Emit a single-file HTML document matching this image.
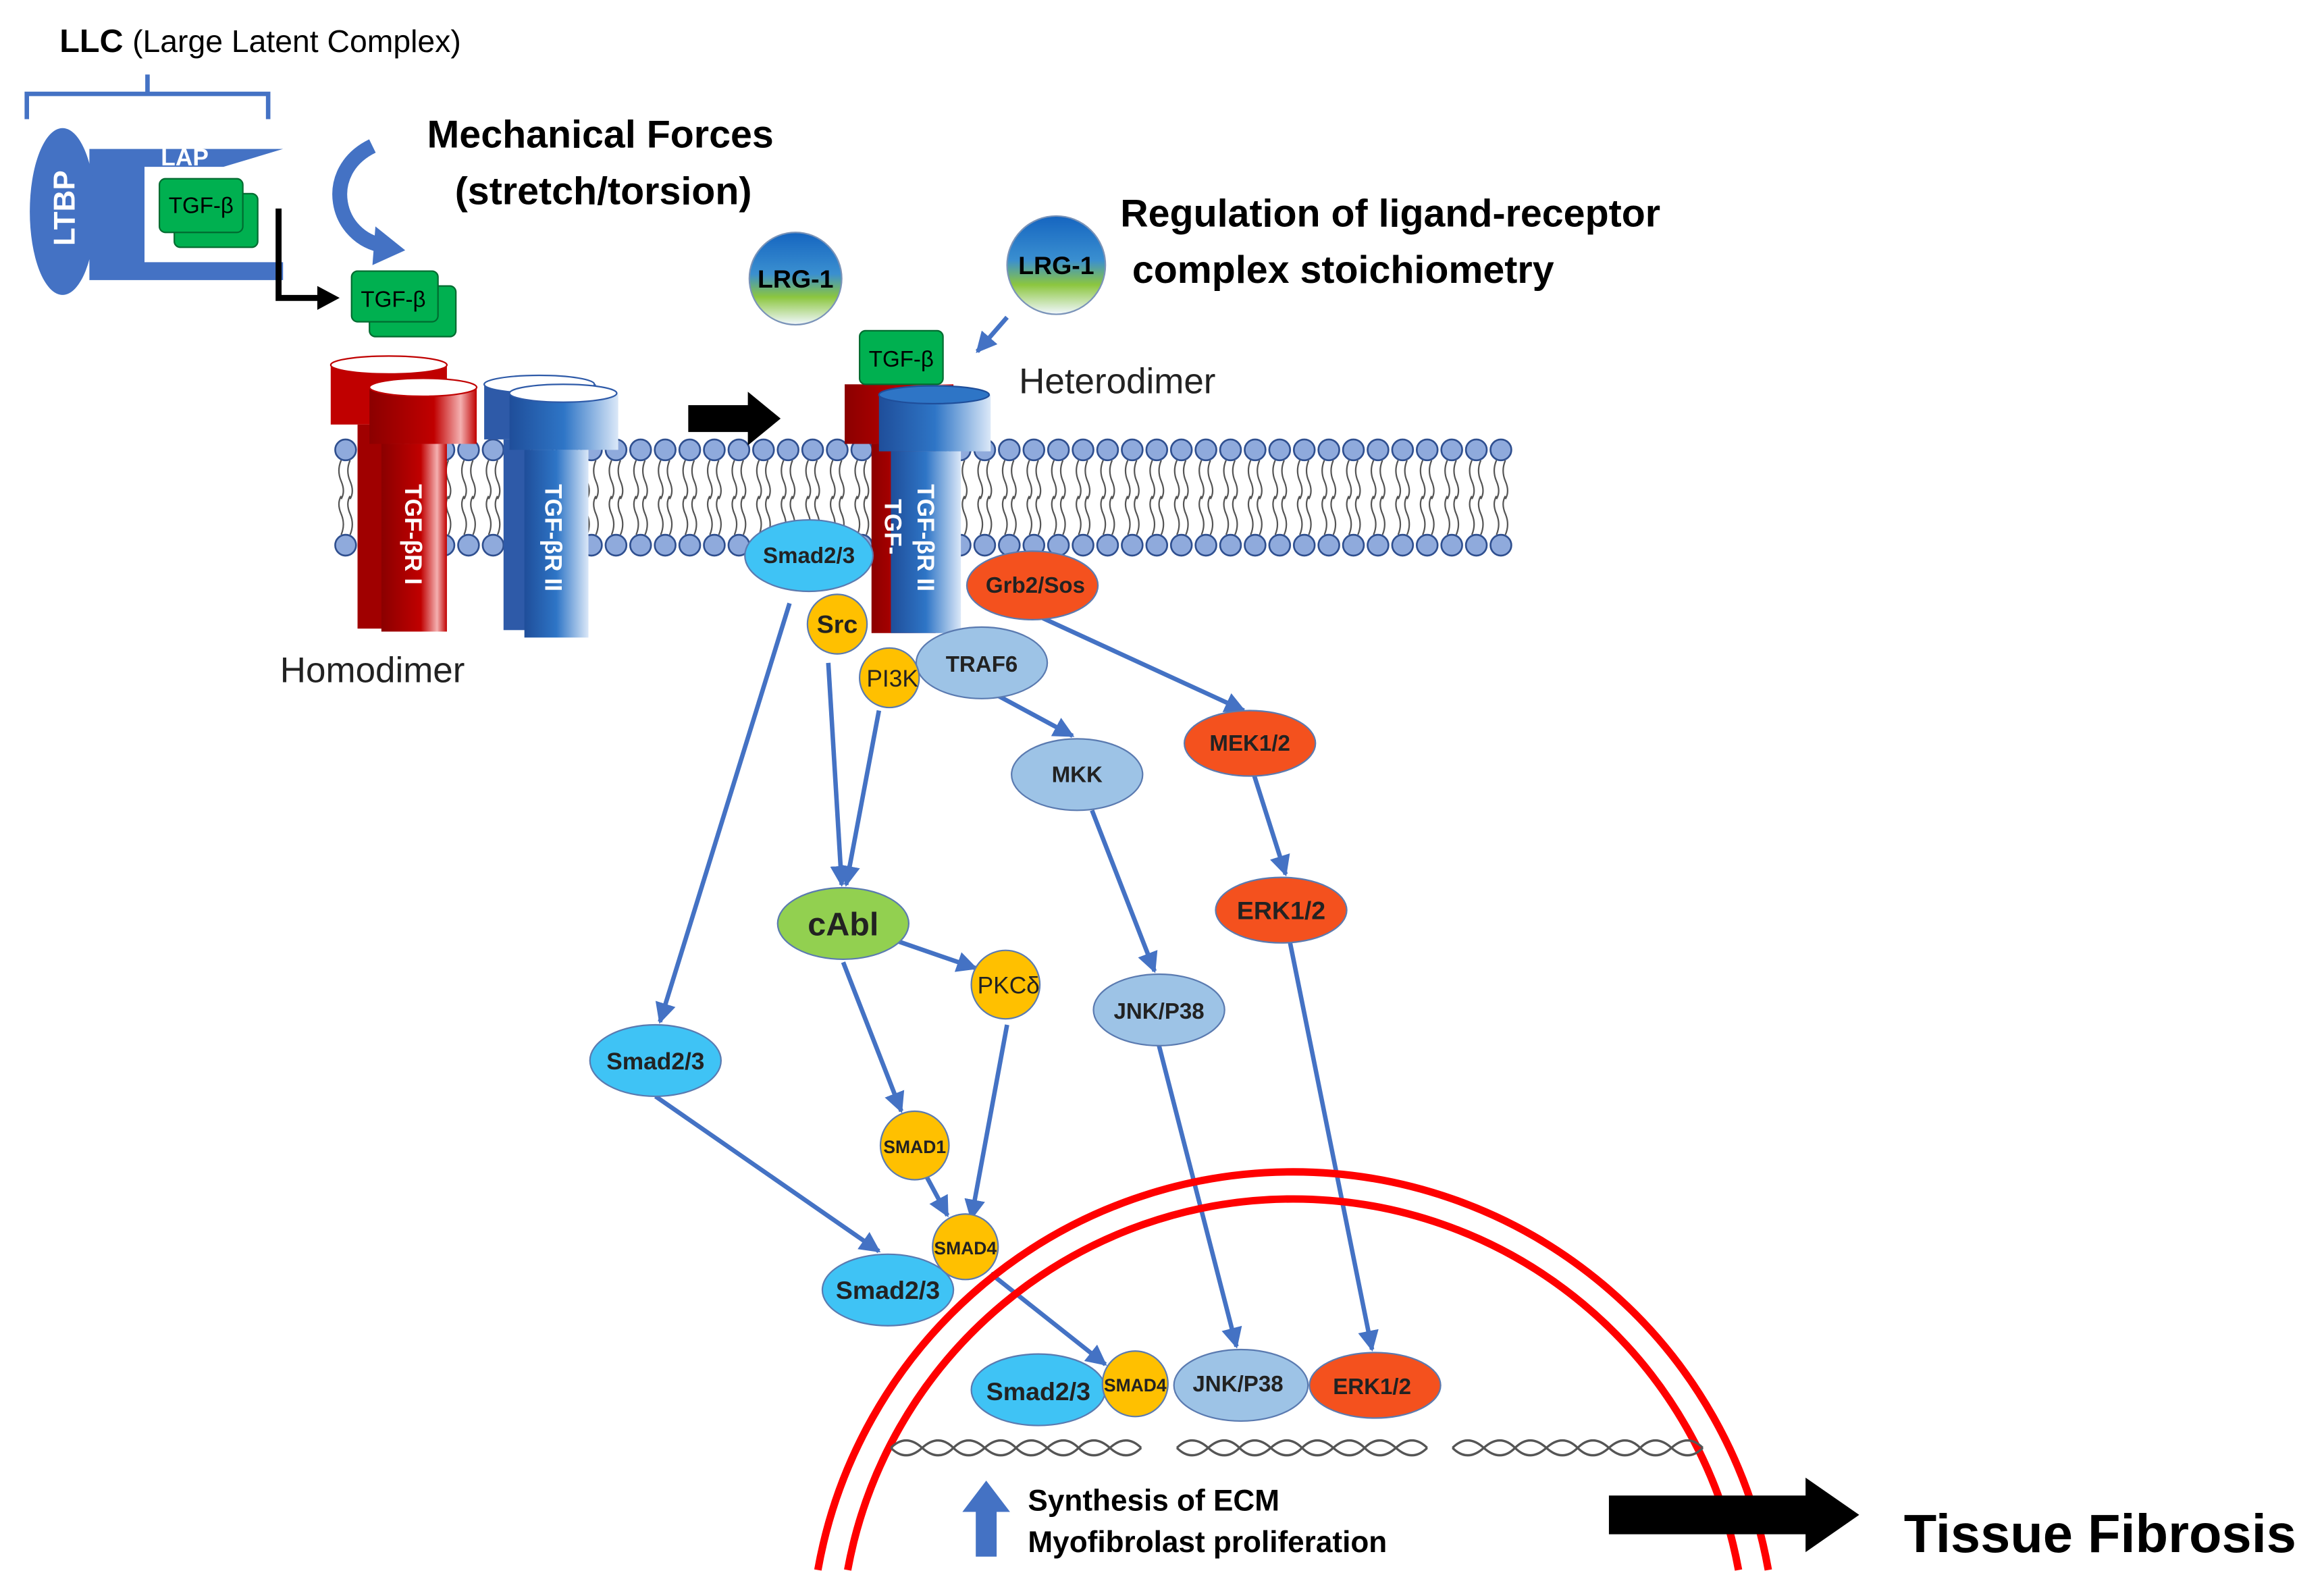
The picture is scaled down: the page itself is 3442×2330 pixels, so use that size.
<!DOCTYPE html>
<html><head><meta charset="utf-8"><style>
html,body{margin:0;padding:0;background:#fff;width:3442px;height:2330px;overflow:hidden;}
svg{display:block;}
text{font-family:"Liberation Sans",sans-serif;}
</style></head><body>
<svg width="3442" height="2330" viewBox="0 0 1560 1056" xmlns="http://www.w3.org/2000/svg">
<defs>
<linearGradient id="lrg" x1="0" y1="0" x2="0" y2="1">
<stop offset="0" stop-color="#1565c0"/><stop offset="0.45" stop-color="#3a8fd0"/><stop offset="0.7" stop-color="#8cc63f"/><stop offset="1" stop-color="#f2f8ff"/></linearGradient>
<linearGradient id="red" x1="0" y1="0" x2="1" y2="0">
<stop offset="0" stop-color="#8b0000"/><stop offset="0.6" stop-color="#c00000"/><stop offset="0.85" stop-color="#f4b0b0"/><stop offset="1" stop-color="#c00000"/></linearGradient>
<linearGradient id="blue" x1="0" y1="0" x2="1" y2="0">
<stop offset="0" stop-color="#1f4e9a"/><stop offset="0.5" stop-color="#2e75c6"/><stop offset="1" stop-color="#dbe8f8"/></linearGradient>
<marker id="a2" viewBox="0 0 10 10" markerWidth="14" markerHeight="14" refX="9" refY="5" orient="auto" markerUnits="userSpaceOnUse"><path d="M0,0 L10,5 L0,10 Z" fill="#4472c4"/></marker>
</defs>

<text x="40" y="35" font-size="22" font-weight="bold">LLC <tspan font-weight="normal" font-size="21">(Large Latent Complex)</tspan></text>
<path d="M18,80 L18,63 L180,63 L180,80 M99,63 L99,50" stroke="#4472c4" stroke-width="3" fill="none"/>
<path d="M60,100 L190,100 L150,112 L97,112 L97,176 L190,176 L190,188 L60,188 Z" fill="#4472c4"/>
<ellipse cx="42" cy="142" rx="22" ry="56" fill="#4472c4"/>
<text font-size="20" font-weight="bold" fill="#fff" transform="translate(50,165) rotate(-90)">LTBP</text>
<text x="108" y="111" font-size="16" font-weight="bold" fill="#fff">LAP</text>
<rect x="117" y="130" width="56" height="36" rx="4" fill="#00b050" stroke="#006b30"/>
<rect x="107" y="120" width="56" height="36" rx="4" fill="#00b050" stroke="#006b30"/>
<text x="135" y="143" font-size="15" text-anchor="middle">TGF-β</text>
<path d="M187,140 L187,200 L215,200" stroke="#000" stroke-width="4" fill="none"/>
<path d="M213,192 L228,200 L213,208Z" fill="#000"/>
<rect x="248" y="192" width="58" height="34" rx="4" fill="#00b050" stroke="#006b30"/>
<rect x="236" y="182" width="58" height="34" rx="4" fill="#00b050" stroke="#006b30"/>
<text x="264" y="206" font-size="15" text-anchor="middle">TGF-β</text>
<path d="M250,98 C215,115 225,160 258,165" stroke="#4472c4" stroke-width="10" fill="none"/>
<path d="M252,152 L272,168 L250,178Z" fill="#4472c4"/>
<text x="403" y="99" font-size="26" font-weight="bold" text-anchor="middle">Mechanical Forces</text>
<text x="405" y="137" font-size="26" font-weight="bold" text-anchor="middle">(stretch/torsion)</text>

<circle cx="534" cy="187" r="31" fill="url(#lrg)" stroke="#7a93b8"/>
<text x="534" y="193" font-size="17" font-weight="bold" text-anchor="middle">LRG-1</text>
<circle cx="709" cy="178" r="33" fill="url(#lrg)" stroke="#7a93b8"/>
<text x="709" y="184" font-size="17" font-weight="bold" text-anchor="middle">LRG-1</text>
<line x1="676" y1="213" x2="656" y2="236" stroke="#4472c4" stroke-width="3" marker-end="url(#a2)"/>
<text x="752" y="152" font-size="26" font-weight="bold">Regulation of ligand-receptor</text>
<text x="760" y="190" font-size="26" font-weight="bold">complex stoichiometry</text>
<text x="684" y="264" font-size="24" fill="#222">Heterodimer</text>
<text x="188" y="458" font-size="24" fill="#222">Homodimer</text>

<g id="lipids"></g>

<rect x="222" y="245" width="78" height="40" fill="#c00000"/>
<ellipse cx="261" cy="245" rx="39" ry="6" fill="#fff" stroke="#c00000"/>
<rect x="240" y="285" width="22" height="137" fill="#a00000"/>
<rect x="248" y="260" width="72" height="38" fill="url(#red)"/>
<ellipse cx="284" cy="260" rx="36" ry="6" fill="#fff" stroke="#c00000"/>
<rect x="256" y="298" width="44" height="126" fill="url(#red)"/>
<text font-size="16" font-weight="bold" fill="#fff" transform="translate(272,325) rotate(90)">TGF-βR I</text>
<rect x="325" y="258" width="75" height="37" fill="#2e5aa8"/>
<ellipse cx="362" cy="258" rx="37" ry="6" fill="#fff" stroke="#2e5aa8"/>
<rect x="338" y="295" width="18" height="128" fill="#2e5aa8"/>
<rect x="342" y="264" width="73" height="38" fill="url(#blue)"/>
<ellipse cx="378" cy="264" rx="36" ry="6" fill="#fff" stroke="#2e5aa8"/>
<rect x="352" y="302" width="43" height="126" fill="url(#blue)"/>
<text font-size="16" font-weight="bold" fill="#fff" transform="translate(366,325) rotate(90)">TGF-βR II</text>

<path d="M462,272 L502,272 L502,263 L524,281 L502,299 L502,290 L462,290Z" fill="#000"/>

<rect x="567" y="258" width="73" height="40" fill="url(#red)"/>
<rect x="585" y="298" width="43" height="127" fill="url(#red)"/>
<rect x="577" y="222" width="56" height="36" rx="4" fill="#00b050" stroke="#006b30"/>
<text x="605" y="246" font-size="15" text-anchor="middle">TGF-β</text>
<rect x="590" y="265" width="75" height="38" fill="url(#blue)"/>
<ellipse cx="627" cy="265" rx="37" ry="6" fill="#2e75c6" stroke="#1f4e9a"/>
<rect x="598" y="303" width="47" height="122" fill="url(#blue)"/>
<text font-size="16" font-weight="bold" fill="#fff" transform="translate(616,325) rotate(90)">TGF-βR II</text>
<text font-size="16" font-weight="bold" fill="#fff" transform="translate(594,335) rotate(90)">TGF-</text>

<g stroke="#4472c4" stroke-width="3" fill="none" marker-end="url(#a2)">
<line x1="530" y1="405" x2="443" y2="686"/>
<line x1="556" y1="445" x2="565" y2="594"/>
<line x1="590" y1="477" x2="568" y2="594"/>
<line x1="603" y1="632" x2="655" y2="650"/>
<line x1="566" y1="646" x2="605" y2="746"/>
<line x1="676" y1="688" x2="652" y2="818"/>
<line x1="440" y1="736" x2="590" y2="840"/>
<line x1="622" y1="790" x2="636" y2="816"/>
<line x1="665" y1="855" x2="742" y2="916"/>
<line x1="700" y1="415" x2="835" y2="477"/>
<line x1="842" y1="521" x2="863" y2="587"/>
<line x1="668" y1="466" x2="720" y2="494"/>
<line x1="733" y1="544" x2="775" y2="652"/>
<line x1="778" y1="702" x2="830" y2="904"/>
<line x1="866" y1="633" x2="921" y2="906"/>
</g>

<path d="M549,1054 A324,324 0 0 1 1187,1054" fill="none" stroke="#ff0000" stroke-width="5"/>
<path d="M569,1054 A304,304 0 0 1 1167,1054" fill="none" stroke="#ff0000" stroke-width="5"/>

<g stroke="#5a7ab0" stroke-width="1">
<ellipse cx="543" cy="373" rx="43" ry="24" fill="#3fc3f5"/>
<ellipse cx="693" cy="393" rx="44" ry="23" fill="#f4511e"/>
<ellipse cx="659" cy="445" rx="44" ry="24" fill="#9dc3e6"/>
<circle cx="562" cy="419" r="20" fill="#ffc000"/>
<circle cx="597" cy="455" r="20" fill="#ffc000"/>
<ellipse cx="839" cy="499" rx="44" ry="22" fill="#f4511e"/>
<ellipse cx="723" cy="520" rx="44" ry="24" fill="#9dc3e6"/>
<ellipse cx="860" cy="611" rx="44" ry="22" fill="#f4511e"/>
<ellipse cx="566" cy="620" rx="44" ry="24" fill="#92d050"/>
<circle cx="675" cy="661" r="23" fill="#ffc000"/>
<ellipse cx="778" cy="678" rx="44" ry="24" fill="#9dc3e6"/>
<ellipse cx="440" cy="712" rx="44" ry="24" fill="#3fc3f5"/>
<circle cx="614" cy="769" r="23" fill="#ffc000"/>
<ellipse cx="596" cy="866" rx="44" ry="24" fill="#3fc3f5"/>
<circle cx="648" cy="837" r="22" fill="#ffc000"/>
<ellipse cx="697" cy="933" rx="45" ry="24" fill="#3fc3f5"/>
<ellipse cx="833" cy="930" rx="45" ry="24" fill="#9dc3e6"/>
<circle cx="762" cy="929" r="22" fill="#ffc000"/>
<ellipse cx="923" cy="930" rx="44" ry="22" fill="#f4511e"/>
</g>
<g font-size="15" font-weight="bold" text-anchor="middle" fill="#222">
<text x="543" y="378">Smad2/3</text>
<text x="695" y="398">Grb2/Sos</text>
<text x="659" y="451">TRAF6</text>
<text x="562" y="425" font-size="17">Src</text>
<text x="599" y="461" font-weight="normal" font-size="16">PI3K</text>
<text x="839" y="504">MEK1/2</text>
<text x="723" y="525">MKK</text>
<text x="860" y="617" font-size="17">ERK1/2</text>
<text x="566" y="628" font-size="22">cAbl</text>
<text x="677" y="667" font-weight="normal" font-size="16">PKCδ</text>
<text x="778" y="684">JNK/P38</text>
<text x="440" y="718" font-size="16">Smad2/3</text>
<text x="614" y="774" font-size="12">SMAD1</text>
<text x="596" y="872" font-size="17">Smad2/3</text>
<text x="648" y="842" font-size="12">SMAD4</text>
<text x="697" y="940" font-size="17">Smad2/3</text>
<text x="762" y="934" font-size="12">SMAD4</text>
<text x="831" y="934">JNK/P38</text>
<text x="921" y="936">ERK1/2</text>
</g>

<g stroke="#555" stroke-width="1.5" fill="none">
<path d="M598,972 q10,-10 21,0 t21,0 t21,0 t21,0 t21,0 t21,0 t21,0 t21,0"/>
<path d="M598,972 q10,10 21,0 t21,0 t21,0 t21,0 t21,0 t21,0 t21,0 t21,0"/>
<path d="M790,972 q10,-10 21,0 t21,0 t21,0 t21,0 t21,0 t21,0 t21,0 t21,0"/>
<path d="M790,972 q10,10 21,0 t21,0 t21,0 t21,0 t21,0 t21,0 t21,0 t21,0"/>
<path d="M975,972 q10,-10 21,0 t21,0 t21,0 t21,0 t21,0 t21,0 t21,0 t21,0"/>
<path d="M975,972 q10,10 21,0 t21,0 t21,0 t21,0 t21,0 t21,0 t21,0 t21,0"/>
</g>
<path d="M655,1045 L655,1015 L646,1015 L662,994 L678,1015 L669,1015 L669,1045Z" fill="#4472c4"/>
<text x="690" y="1014" font-size="20" font-weight="bold">Synthesis of ECM</text>
<text x="690" y="1042" font-size="20" font-weight="bold">Myofibrolast proliferation</text>
<path d="M1080,1004 L1212,1004 L1212,992 L1248,1017 L1212,1042 L1212,1030 L1080,1030Z" fill="#000"/>
<text x="1278" y="1042" font-size="36" font-weight="bold">Tissue Fibrosis</text>
</svg>
<script>
(function(){
var ns="http://www.w3.org/2000/svg";
var g=document.getElementById('lipids');
for(var x=232;x<=1018;x+=16.5){
 var t=document.createElementNS(ns,'path');
 t.setAttribute('d','M'+(x-3)+',309 q-3,7 0,14 t0,12 M'+(x+3)+',309 q-3,7 0,14 t0,12 M'+(x-3)+',359 q3,-7 0,-14 t0,-12 M'+(x+3)+',359 q3,-7 0,-14 t0,-12');
 t.setAttribute('stroke','#555');t.setAttribute('fill','none');t.setAttribute('stroke-width','1');
 g.appendChild(t);
 [302,366].forEach(function(y){
  var c=document.createElementNS(ns,'circle');
  c.setAttribute('cx',x);c.setAttribute('cy',y);c.setAttribute('r',7);
  c.setAttribute('fill','#8faadc');c.setAttribute('stroke','#2f4f8f');c.setAttribute('stroke-width','1.2');
  g.appendChild(c);
 });
}
})();
</script>
</body></html>
